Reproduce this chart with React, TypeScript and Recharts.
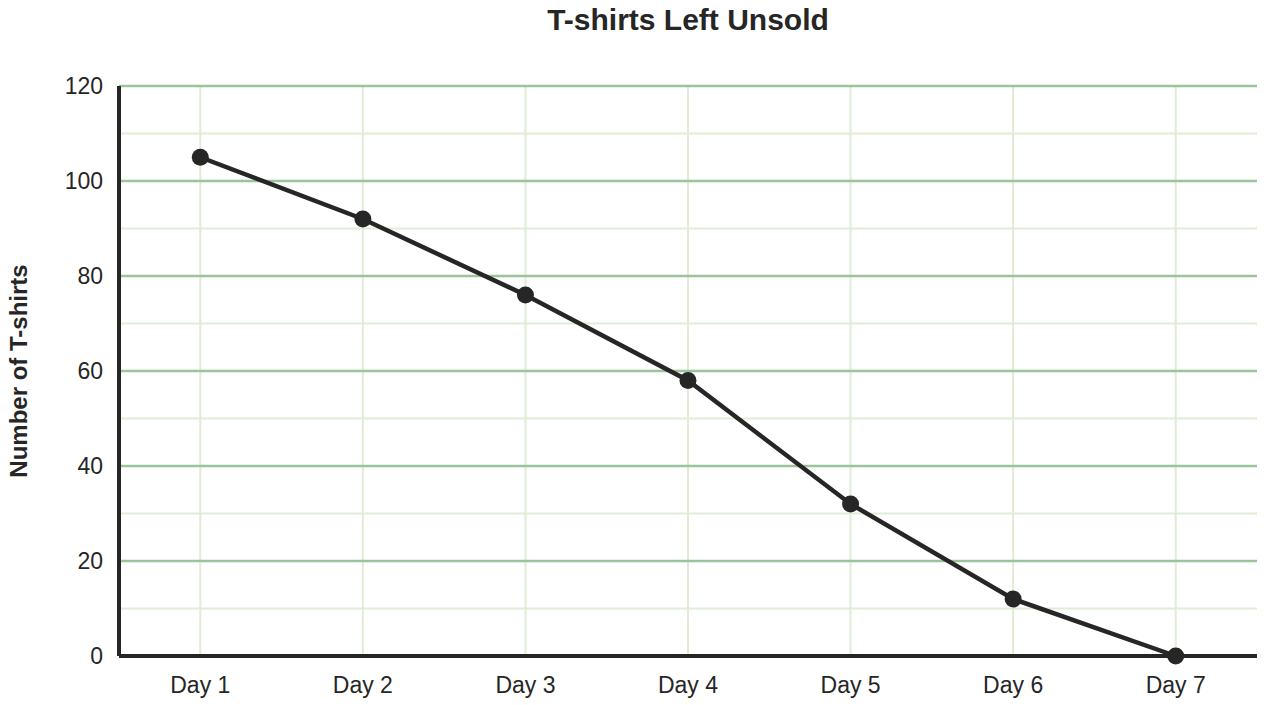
import { CartesianGrid, Line, LineChart, XAxis, YAxis } from 'recharts'

const DAYS = ['Day 1', 'Day 2', 'Day 3', 'Day 4', 'Day 5', 'Day 6', 'Day 7']
const UNSOLD = [105, 92, 76, 58, 32, 12, 0]
const MAJOR_TICKS = [0, 20, 40, 60, 80, 100, 120]
const MAJOR_GRID = [20, 40, 60, 80, 100, 120]
const MINOR_TICKS = [10, 30, 50, 70, 90, 110]

const INK = '#262626'
const MAJOR = '#9cc49c'
const MINOR = '#e0edd6'
const FONT = 'Arial, "Liberation Sans", sans-serif'

const data = DAYS.map((day, i) => ({ day, unsold: UNSOLD[i] }))

export default function App() {
  return (
    <div style={{ position: 'absolute', left: 0, top: 0, width: 1266, height: 705, fontFamily: FONT }}>
      <div
        style={{
          position: 'absolute',
          top: 3,
          left: 119,
          width: 1138,
          textAlign: 'center',
          fontSize: 30,
          fontWeight: 700,
          color: INK,
        }}
      >
        T-shirts Left Unsold
      </div>
      <LineChart width={1266} height={705} data={data} margin={{ top: 86, right: 9, bottom: 0, left: 0 }}>
        <CartesianGrid stroke={MINOR} strokeWidth={2} horizontalValues={MINOR_TICKS} verticalValues={DAYS} />
        <CartesianGrid stroke={MAJOR} strokeWidth={2.5} vertical={false} horizontalValues={MAJOR_GRID} />
        <XAxis
          dataKey="day"
          scale="band"
          height={49}
          tickLine={false}
          tickMargin={15}
          stroke={INK}
          axisLine={{ stroke: INK, strokeWidth: 4 }}
          tick={{ fill: INK, fontSize: 23, fontFamily: FONT }}
        />
        <YAxis
          width={119}
          domain={[0, 120]}
          ticks={MAJOR_TICKS}
          tickLine={false}
          tickMargin={10}
          stroke={INK}
          axisLine={{ stroke: INK, strokeWidth: 4 }}
          tick={{ fill: INK, fontSize: 23, fontFamily: FONT }}
          label={{
            value: 'Number of T-shirts',
            angle: -90,
            position: 'insideLeft',
            offset: 0,
            dx: 18,
            style: { fill: INK, fontSize: 24, fontWeight: 700, fontFamily: FONT, textAnchor: 'middle' },
          }}
        />
        <Line
          dataKey="unsold"
          type="linear"
          stroke={INK}
          strokeWidth={4.5}
          dot={{ r: 8.5, fill: INK, stroke: INK, strokeWidth: 0 }}
          isAnimationActive={false}
        />
      </LineChart>
    </div>
  )
}
